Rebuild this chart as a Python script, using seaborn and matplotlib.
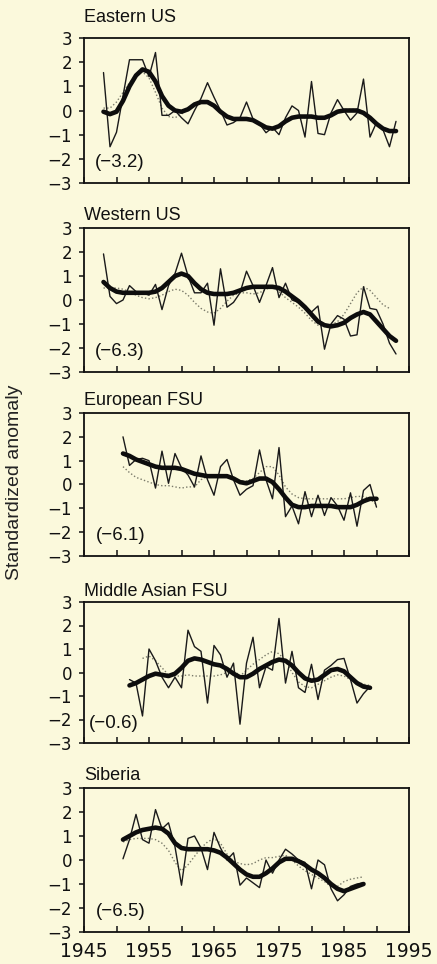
import numpy as np
import pandas as pd
import matplotlib
matplotlib.use("Agg")
import matplotlib.pyplot as plt
import seaborn as sns

# ---------------- data ----------------
regions = ["Eastern US", "Western US", "European FSU", "Middle Asian FSU", "Siberia"]
trend_labels = ["(\u22123.2)", "(\u22126.3)", "(\u22126.1)", "(\u22120.6)", "(\u22126.5)"]
start_years = [1948, 1948, 1951, 1952, 1951]

east_annual = [1.57, -1.5, -0.9, 0.6, 2.1, 2.1, 2.1, 1.4, 2.4, -0.2, -0.2, 0.0, -0.3, -0.55,
               0.0, 0.5, 1.15, 0.55, 0.0, -0.6, -0.5, -0.3, 0.35, -0.35, -0.55, -0.92, -0.7,
               -1.0, -0.3, 0.19, 0.0, -1.1, 1.2, -0.95, -1.0, -0.1, 0.45, 0.0, -0.4, -0.1,
               1.3, -1.1, -0.5, -0.8, -1.5, -0.45]
east_smooth = [-0.05, -0.15, -0.05, 0.4, 1.0, 1.45, 1.7, 1.6, 1.2, 0.6, 0.2, 0.0, -0.05, 0.05,
               0.25, 0.35, 0.35, 0.2, -0.05, -0.25, -0.35, -0.35, -0.35, -0.4, -0.55, -0.7,
               -0.75, -0.65, -0.45, -0.3, -0.25, -0.25, -0.25, -0.3, -0.3, -0.2, -0.05, 0.0,
               0.0, 0.0, -0.1, -0.3, -0.55, -0.75, -0.85, -0.85]
east_dotted = [0.1, 0.1, 0.35, 0.75, 1.15, 1.45, 1.6, 1.35, 0.75, 0.1, -0.25, -0.3, -0.15, 0.05,
               0.25, 0.3, 0.3, 0.15, -0.1, -0.3, -0.4, -0.4, -0.35, -0.4, -0.55, -0.75, -0.8,
               -0.7, -0.45, -0.3, -0.3, -0.3, -0.3, -0.3, -0.3, -0.15, 0.0, 0.05, 0.05, 0.05,
               -0.05, -0.35, -0.6, -0.75, -0.85, -0.85]

west_annual = [1.92, 0.15, -0.15, 0.0, 0.6, 0.35, 0.3, 0.2, 0.65, -0.4, 0.6, 1.1, 1.95, 1.0,
               0.3, 0.3, 0.7, -1.05, 1.3, -0.3, -0.1, 0.3, 1.2, 0.6, -0.1, 0.6, 1.35, 0.1,
               0.7, 0.0, -0.1, -0.25, -0.5, -0.25, -2.05, -1.0, -0.65, -0.8, -1.5, -1.45,
               0.55, -0.35, -0.4, -1.0, -1.8, -2.25]
west_smooth = [0.75, 0.5, 0.35, 0.3, 0.3, 0.3, 0.3, 0.3, 0.35, 0.5, 0.75, 1.0, 1.1, 1.0, 0.7,
               0.45, 0.3, 0.25, 0.25, 0.25, 0.3, 0.4, 0.5, 0.55, 0.55, 0.55, 0.55, 0.5, 0.35,
               0.15, -0.05, -0.3, -0.6, -0.9, -1.05, -1.1, -1.05, -0.95, -0.75, -0.6, -0.5,
               -0.6, -0.9, -1.2, -1.5, -1.7]
west_dotted = [0.5, 0.5, 0.5, 0.45, 0.35, 0.2, 0.1, 0.05, 0.1, 0.2, 0.35, 0.45, 0.4, 0.2, -0.1,
               -0.35, -0.5, -0.55, -0.35, -0.05, 0.2, 0.3, 0.3, 0.25, 0.3, 0.45, 0.55, 0.35,
               0.1, -0.1, -0.3, -0.55, -0.85, -1.05, -1.1, -1.05, -0.9, -0.6, -0.15, 0.3,
               0.55, 0.4, 0.1, -0.2, -0.35, np.nan]

euro_annual = [2.0, 0.8, 1.05, 1.1, 1.0, -0.15, 1.4, 0.05, 1.3, 0.7, 0.4, -0.1, 1.2, 0.2,
               -0.45, 0.75, 1.05, 0.2, -0.45, -0.2, -0.05, 1.45, 0.2, -0.6, 1.55, -1.35,
               -0.9, -1.65, -0.3, -1.35, -0.45, -1.3, -0.55, -0.9, -1.5, -0.35, -1.75, -0.25,
               0.0, -0.95]
euro_smooth = [1.3, 1.2, 1.05, 0.95, 0.85, 0.75, 0.7, 0.7, 0.7, 0.65, 0.55, 0.45, 0.4, 0.35,
               0.35, 0.35, 0.35, 0.25, 0.1, 0.05, 0.15, 0.25, 0.25, 0.1, -0.2, -0.55, -0.85,
               -0.95, -0.95, -0.9, -0.9, -0.9, -0.9, -0.95, -0.95, -0.95, -0.85, -0.7, -0.6,
               -0.6]
euro_dotted = [0.75, 0.5, 0.3, 0.2, 0.1, 0.0, -0.05, -0.05, -0.1, -0.15, -0.1, -0.1, 0.2, 0.35,
               0.35, 0.4, 0.35, 0.2, 0.15, 0.15, 0.25, 0.5, 0.75, 0.75, 0.4, -0.1, -0.4,
               -0.55, -0.6, -0.6, -0.6, -0.6, -0.6, -0.6, -0.6, -0.55, -0.5, -0.5, -0.6,
               -0.85]

masia_annual = [-0.3, -0.45, -1.85, 1.0, 0.5, -0.2, -0.65, -0.2, -0.65, 1.8, 1.1, 0.9, -1.3,
                1.15, 0.75, -0.2, 0.4, -2.2, 0.4, 1.5, -0.65, 0.25, 0.1, 2.3, -0.45, 0.9,
                -0.65, -0.85, 0.35, -1.15, 0.1, 0.3, 0.55, 0.6, -0.3, -1.3, -0.9, -0.6]
masia_smooth = [-0.55, -0.45, -0.3, -0.15, -0.05, -0.1, -0.15, -0.05, 0.2, 0.5, 0.6, 0.55,
                0.45, 0.35, 0.3, 0.15, -0.05, -0.2, -0.2, -0.05, 0.15, 0.3, 0.45, 0.55, 0.5,
                0.3, 0.0, -0.25, -0.35, -0.3, -0.1, 0.1, 0.15, 0.05, -0.2, -0.45, -0.6, -0.65]
masia_dotted = [np.nan, np.nan, 0.6, 0.7, 0.5, 0.2, -0.1, -0.15, -0.15, -0.1, -0.15, -0.15,
                -0.15, -0.15, -0.1, 0.0, 0.1, -0.15, 0.1, 0.35, 0.55, 0.75, 0.9, 0.8, 0.5,
                0.0, -0.4, -0.6, -0.65, -0.5, -0.35, -0.2, -0.1, -0.15, -0.3, -0.4, -0.5,
                -0.55]

sib_annual = [0.05, 0.85, 1.9, 0.85, 0.7, 2.1, 1.3, 1.55, 0.55, -1.05, 0.9, 1.0, 0.5, -0.4,
              1.15, 0.5, 0.0, 0.3, -1.05, -0.75, -0.95, -1.15, 0.0, -0.55, 0.0, 0.45, 0.25,
              0.0, -0.1, -1.2, 0.0, -0.2, -1.2, -1.7, -1.45, -1.1, -1.0, -0.95]
sib_smooth = [0.85, 1.0, 1.15, 1.25, 1.3, 1.35, 1.3, 1.1, 0.7, 0.5, 0.45, 0.45, 0.45, 0.45,
              0.4, 0.3, 0.1, -0.15, -0.4, -0.6, -0.7, -0.7, -0.55, -0.35, -0.1, 0.05, 0.05,
              -0.05, -0.2, -0.4, -0.55, -0.75, -1.0, -1.2, -1.3, -1.2, -1.1, -1.0]
sib_dotted = [0.75, 0.85, 0.9, 0.9, 0.9, 0.85, 0.7, 0.4, -0.1, -0.45, -0.2, 0.15, 0.5, 0.75,
              0.9, 0.7, 0.25, -0.05, -0.15, -0.2, -0.15, 0.0, 0.1, 0.1, 0.15, 0.2, 0.0,
              -0.25, -0.45, -0.6, -0.75, -0.9, -1.1, -1.1, -0.9, -0.8, -0.75, -0.7]

annual = [east_annual, west_annual, euro_annual, masia_annual, sib_annual]
smooth = [east_smooth, west_smooth, euro_smooth, masia_smooth, sib_smooth]
dotted = [east_dotted, west_dotted, euro_dotted, masia_dotted, sib_dotted]

x_ticks = list(range(1945, 1996, 5))
x_ticklabels = ["1945", "", "1955", "", "1965", "", "1975", "", "1985", "", "1995"]
y_ticks = [-3, -2, -1, 0, 1, 2, 3]
y_ticklabels = ["\u22123", "\u22122", "\u22121", "0", "1", "2", "3"]

# ---------------- layout ----------------
W, H = 437, 964
BG = "#fbf9dc"
sns.set_style("ticks")
plt.rcParams["font.family"] = ["DejaVu Sans"]

fig = plt.figure(figsize=(W / 100, H / 100), dpi=100, facecolor=BG)

panel_px = [(38, 183), (228, 372), (413, 556), (602, 743), (788, 932)]
title_pads = [11.5, 5.5, 6.0, 4.5, 6.0]
label_x = [0.035, 0.035, 0.037, 0.015, 0.037]
left_px, right_px = 84, 409

for i, region in enumerate(regions):
    top, bot = panel_px[i]
    ax = fig.add_axes([left_px / W, 1 - bot / H, (right_px - left_px) / W, (bot - top) / H])
    ax.set_facecolor(BG)
    n = len(annual[i])
    yrs = np.arange(start_years[i], start_years[i] + n)
    df = pd.DataFrame({"year": yrs, "annual": annual[i], "smooth": smooth[i], "dotted": dotted[i]})

    sns.lineplot(data=df, x="year", y="dotted", ax=ax, color="#7a7a6a", lw=1.0,
                 linestyle=(0, (1, 1.6)), zorder=2)
    sns.lineplot(data=df, x="year", y="annual", ax=ax, color="#1a1a1a", lw=1.0, zorder=3)
    sns.lineplot(data=df, x="year", y="smooth", ax=ax, color="#0d0d0d", lw=3.3, zorder=4,
                 solid_capstyle="round")

    ax.set_xlim(1945, 1995)
    ax.set_ylim(-3, 3)
    ax.set_xticks(x_ticks)
    ax.set_yticks(y_ticks)
    ax.set_yticklabels(y_ticklabels)
    if i == len(regions) - 1:
        ax.set_xticklabels(x_ticklabels)
    else:
        ax.set_xticklabels([""] * len(x_ticks))
    ax.tick_params(axis="x", direction="in", length=4, width=1.1, labelsize=13.5, pad=7,
                   colors="#111111")
    ax.tick_params(axis="y", direction="out", length=3.5, width=1.1, labelsize=12, pad=5,
                   colors="#111111")
    for s in ax.spines.values():
        s.set_visible(True)
        s.set_linewidth(1.3)
        s.set_color("#111111")
    ax.set_xlabel("")
    ax.set_ylabel("")
    ax.set_title(region, loc="left", fontsize=13, pad=title_pads[i],
                 family=["Liberation Sans", "DejaVu Sans"], color="#111111", x=0.0)
    ax.text(label_x[i], 0.14, trend_labels[i], transform=ax.transAxes, ha="left", va="center",
            fontsize=13.5, family=["Liberation Sans", "DejaVu Sans"], color="#111111")

fig.text(15 / W, 1 - 482 / H, "Standardized anomaly", rotation=90, ha="center", va="center",
         fontsize=14, family=["Liberation Sans Narrow", "Liberation Sans", "DejaVu Sans"],
         color="#222222")

fig.savefig("out.png", dpi=100, facecolor=BG)
